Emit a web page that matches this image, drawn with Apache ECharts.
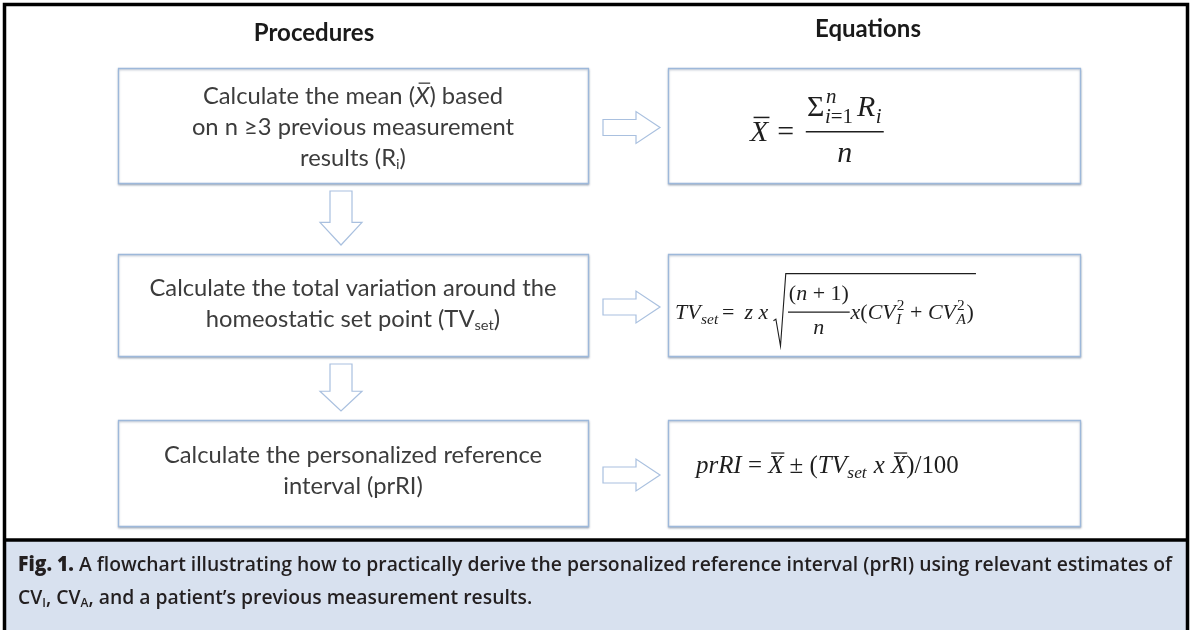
<!DOCTYPE html>
<html><head><meta charset="utf-8">
<script src="https://cdn.jsdelivr.net/npm/echarts@6/dist/echarts.min.js"></script>
<style>html,body{margin:0;padding:0;background:#fff}#c{width:1192px;height:630px}</style>
</head><body><div id="c"></div>
<script>
// ---------------- content ----------------
const headers = ['Procedures', 'Equations'];
// each procedure: lines of text runs (sub = subscript, i = italic, o = overline)
const procedures = [
  [[{t:'Calculate the mean ('},{t:'X',i:1,o:1},{t:') based'}],
   [{t:'on n ≥3 previous measurement'}],
   [{t:'results (R'},{t:'i',sub:1},{t:')'}]],
  [[{t:'Calculate the total variation around the'}],
   [{t:'homeostatic set point (TV'},{t:'set',sub:1},{t:')'}]],
  [[{t:'Calculate the personalized reference'}],
   [{t:'interval (prRI)'}]]
];
const captionLines = [
  [{t:'Fig. 1.',b:1},{t:' A flowchart illustrating how to practically derive the personalized reference interval (prRI) using relevant estimates of'}],
  [{t:'CV'},{t:'I',sub:1},{t:', CV'},{t:'A',sub:1},{t:', and a patient’s previous measurement results.'}]
];

// math builders
function mt(s, it){ return {k:'t', s:s, it: it===undefined ? true : it}; }
function up(s){ return mt(s,false); }
function seq(){ return {k:'q', a:[].slice.call(arguments)}; }
function ss(base, sub, sup){ return {k:'s', base:base, sub:sub, sup:sup}; }
function frac(num, den){ return {k:'f', num:num, den:den}; }
function rad(body){ return {k:'r', body:body}; }
function bar(body){ return {k:'o', body:body}; }
function sp(em){ return {k:'p', em:em}; }

const equations = [
  seq(bar(mt('X')), sp(0.3), up('='), sp(0.35),
      frac(seq(ss(up('Σ'), seq(mt('i'), up('=1')), mt('n')), sp(0.1), ss(mt('R'), mt('i'))), mt('n'))),
  seq(ss(mt('TV'), mt('set')), sp(0.15), up('='), sp(0.45), mt('z x'), sp(0.2),
      rad(seq(frac(seq(up('('), mt('n'), up(' + 1)')), mt('n')), mt('x'), up('('),
              ss(mt('CV'), mt('I'), up('2')), up(' + '), ss(mt('CV'), mt('A'), up('2')), up(')')))),
  seq(mt('prRI'), up(' = '), bar(mt('X')), up(' ± ('), ss(mt('TV'), mt('set')), mt(' x '), bar(mt('X')), up(')/100'))
];

// ---------------- layout ----------------
const L = {
  frameColor:'#000', boxStroke:'#9db8da', arrowStroke:'#a9c0df', textColor:'#3c3c3c',
  capBg:'#d8e1ef', capColor:'#231f20',
  leftBox:{x:118, w:470}, eqBox:{x:668, w:412},
  rows:[{y:68,h:115},{y:254,h:102},{y:420,h:106}],
  textShift:[2, -1, -2],
  lineGap:31,
  headerX:[314, 868], headerY:[33, 29],
  eqX:[750, 675, 696], eqW:[135, 300, 263], eqMid:[133, 313, 466],
  capY:[565, 598], capX:18, capW:1154
};
const SANS = 'Lato, "Open Sans", sans-serif';
const MF = '"Liberation Serif", "DejaVu Serif", serif';

const ctx = document.createElement('canvas').getContext('2d');
function mw(text, size, style, weight, family){
  ctx.font = style + ' ' + weight + ' ' + size + 'px ' + family;
  return ctx.measureText(text).width;
}
function textEl(s, x, y, size, opt){
  return {type:'text', x:x, y:y, silent:true, style:{text:s, fontSize:size, fontFamily:opt.family,
    fontWeight:opt.weight||'normal', fontStyle:opt.style||'normal', fill:opt.color,
    textAlign:'left', textVerticalAlign:'middle', verticalAlign:'middle'}};
}
function lineEl(x1,y1,x2,y2,w,c){
  return {type:'line', silent:true, shape:{x1:x1,y1:y1,x2:x2,y2:y2}, style:{stroke:c, lineWidth:w}};
}

function runLine(segs, o){
  const parts = []; let x = 0;
  segs.forEach(function(s){
    const size = s.sub ? o.size*0.62 : o.size;
    const weight = s.b ? o.boldWeight : o.weight;
    const style = s.i ? 'italic' : 'normal';
    const w = mw(s.t, size, style, weight, o.family);
    parts.push(textEl(s.t, x, s.sub ? o.size*0.27 : 0, size, {family:o.family, weight:weight, style:style, color:o.color}));
    if (s.o) parts.push(lineEl(x + w*0.25, -o.size*0.58, x + w*1.05, -o.size*0.58, 1.3, o.color));
    x += w;
  });
  return {w:x, parts:parts};
}

// math layout (b = baseline, text drawn by its middle = b - MM*size)
const MM = 0.3;
function tallS(s){ return /[A-Z0-9()Σbdfhklt=±\/]/.test(s); }
function lay(n, size, color){
  if (n.k === 't'){
    const st = n.it ? 'italic' : 'normal';
    const w = mw(n.s, size, st, 'normal', MF);
    return {w:w, a:(tallS(n.s)?0.7:0.47)*size, d:(/[()gjpqy]/.test(n.s)?0.2:0.02)*size,
      r:function(x,b,out){ out.push(textEl(n.s, x, b - MM*size, size, {family:MF, style:st, color:color})); }};
  }
  if (n.k === 'p') return {w:n.em*size, a:0, d:0, r:function(){}};
  if (n.k === 'q'){
    const ls = n.a.map(function(c){ return lay(c, size, color); });
    let w=0,a=0,d=0; ls.forEach(function(l){ w+=l.w; a=Math.max(a,l.a); d=Math.max(d,l.d); });
    return {w:w,a:a,d:d,r:function(x,b,out){ let cx=x; ls.forEach(function(l){ l.r(cx,b,out); cx+=l.w; }); }};
  }
  if (n.k === 's'){
    const B = lay(n.base, size, color);
    const S = n.sub ? lay(n.sub, size*0.7, color) : null;
    const P = n.sup ? lay(n.sup, size*0.7, color) : null;
    const w = B.w + Math.max(S?S.w:0, P?P.w:0) + size*0.05;
    return {w:w, a:Math.max(B.a, P ? 0.42*size + P.a : 0), d:Math.max(B.d, S ? 0.22*size + S.d : 0),
      r:function(x,b,out){ B.r(x,b,out); if (S) S.r(x+B.w+size*0.02, b+0.22*size, out); if (P) P.r(x+B.w+size*0.05, b-0.42*size, out); }};
  }
  if (n.k === 'f'){
    const N = lay(n.num, size, color), D = lay(n.den, size, color);
    const w = Math.max(N.w, D.w) + size*0.16, ax = 0.34*size, gn = 0.8*size, gd = 0.74*size;
    return {w:w, a:ax+gn+0.7*size, d:-ax+gd+0.5*size, r:function(x,b,out){
      const yb = b - ax;
      out.push(lineEl(x+size*0.04, yb, x+w-size*0.04, yb, Math.max(1, size*0.05), color));
      N.r(x+(w-N.w)/2, yb - gn + MM*size, out); D.r(x+(w-D.w)/2, yb + gd + MM*size, out); }};
  }
  if (n.k === 'r'){
    const B = lay(n.body, size, color);
    const pad = 0.66*size;
    return {w:B.w+pad+size*0.05, a:B.a+0.3*size, d:B.d+0.3*size, r:function(x,b,out){
      const top = b - B.a - 0.25*size, bot = b + B.d + 0.3*size;
      out.push({type:'polyline', silent:true, shape:{points:[[x+size*0.04, b+0.05*size],[x+size*0.15, b-0.02*size],[x+size*0.36, bot],[x+pad-size*0.06, top],[x+pad+B.w+size*0.1, top]]},
        style:{stroke:color, lineWidth:Math.max(1, size*0.05), fill:'none'}});
      B.r(x+pad, b, out); }};
  }
  if (n.k === 'o'){
    const B = lay(n.body, size, color);
    return {w:B.w, a:B.a+0.15*size, d:B.d, r:function(x,b,out){
      B.r(x,b,out); const y = b - B.a - 0.12*size;
      out.push(lineEl(x+size*0.12, y, x+B.w+size*0.04, y, Math.max(1, size*0.05), color)); }};
  }
}

// ---------------- build graphic ----------------
const els = [];
// caption background + frame
els.push({type:'rect', silent:true, shape:{x:4, y:541, width:1184, height:92}, style:{fill:L.capBg}});
els.push({type:'line', silent:true, shape:{x1:4, y1:540, x2:1188, y2:540}, style:{stroke:L.frameColor, lineWidth:3.5}});
els.push({type:'rect', silent:true, shape:{x:4.5, y:4.5, width:1183, height:640}, style:{fill:'none', stroke:L.frameColor, lineWidth:3.5}});

// headers
headers.forEach(function(h, i){
  const w = mw(h, 24, 'normal', 'bold', SANS);
  els.push(textEl(h, L.headerX[i] - w/2, L.headerY[i], 24, {family:SANS, weight:'bold', color:'#1a1a1a'}));
});

// boxes
const boxShadow = {shadowColor:'rgba(60,80,110,0.35)', shadowBlur:2, shadowOffsetY:1};
L.rows.forEach(function(r){
  els.push({type:'rect', silent:true, shape:{x:L.leftBox.x+0.5, y:r.y+0.5, width:L.leftBox.w, height:r.h},
    style:Object.assign({fill:'#fff', stroke:L.boxStroke, lineWidth:1.3}, boxShadow)});
  els.push({type:'rect', silent:true, shape:{x:L.eqBox.x+0.5, y:r.y+0.5, width:L.eqBox.w, height:r.h},
    style:Object.assign({fill:'#fff', stroke:L.boxStroke, lineWidth:1.3}, boxShadow)});
});

// right arrows
L.rows.forEach(function(r){
  const cy = r.y + r.h/2 + 2, x0 = 603, x1 = 636, x2 = 660, hs = 8, hh = 16;
  els.push({type:'polygon', silent:true, shape:{points:[[x0,cy-hs],[x1,cy-hs],[x1,cy-hh],[x2,cy],[x1,cy+hh],[x1,cy+hs],[x0,cy+hs]]},
    style:{fill:'#fff', stroke:L.arrowStroke, lineWidth:1.2}});
});
// down arrows
for (let i = 0; i < L.rows.length - 1; i++){
  const cx = 341, y0 = L.rows[i].y + L.rows[i].h + 8, y2 = L.rows[i+1].y - 9;
  const y1 = y0 + (y2 - y0)*0.58, hs = 11, hh = 21;
  els.push({type:'polygon', silent:true, shape:{points:[[cx-hs,y0],[cx+hs,y0],[cx+hs,y1],[cx+hh,y1],[cx,y2],[cx-hh,y1],[cx-hs,y1]]},
    style:{fill:'#fff', stroke:L.arrowStroke, lineWidth:1.2}});
}

// procedure texts
const procOpt = {family:SANS, size:23, weight:'normal', boldWeight:'bold', color:L.textColor};
const refW = runLine(procedures[1][0], procOpt).w;
const procSx = 407 / refW;
procedures.forEach(function(lines, ri){
  const r = L.rows[ri];
  const cy = r.y + r.h/2 + L.textShift[ri];
  lines.forEach(function(segs, li){
    const rl = runLine(segs, procOpt);
    const y = cy + (li - (lines.length-1)/2) * L.lineGap;
    const cx = L.leftBox.x + L.leftBox.w/2;
    els.push({type:'group', x:cx - rl.w*procSx/2, y:y, scaleX:procSx, children:rl.parts});
  });
});

// equations (font size fitted to the measured width of each equation)
equations.forEach(function(eq, i){
  const base = lay(eq, 20, '#1e1e1e');
  const size = 20 * L.eqW[i] / base.w;
  const l = lay(eq, size, '#1e1e1e');
  const out = [];
  l.r(L.eqX[i], L.eqMid[i] + MM*size, out);
  out.forEach(function(e){ els.push(e); });
});

// caption
const capOpt = {family:'"Open Sans", sans-serif', size:20.5, weight:'600', boldWeight:'800', color:L.capColor};
const cap0 = runLine(captionLines[0], capOpt);
const capSx = L.capW / cap0.w;
captionLines.forEach(function(segs, i){
  const rl = runLine(segs, capOpt);
  els.push({type:'group', x:L.capX, y:L.capY[i], scaleX:capSx, children:rl.parts});
});

const chart = echarts.init(document.getElementById('c'));
chart.setOption({animation:false, backgroundColor:'#fff', graphic:{elements:els}});
</script>
</body></html>
